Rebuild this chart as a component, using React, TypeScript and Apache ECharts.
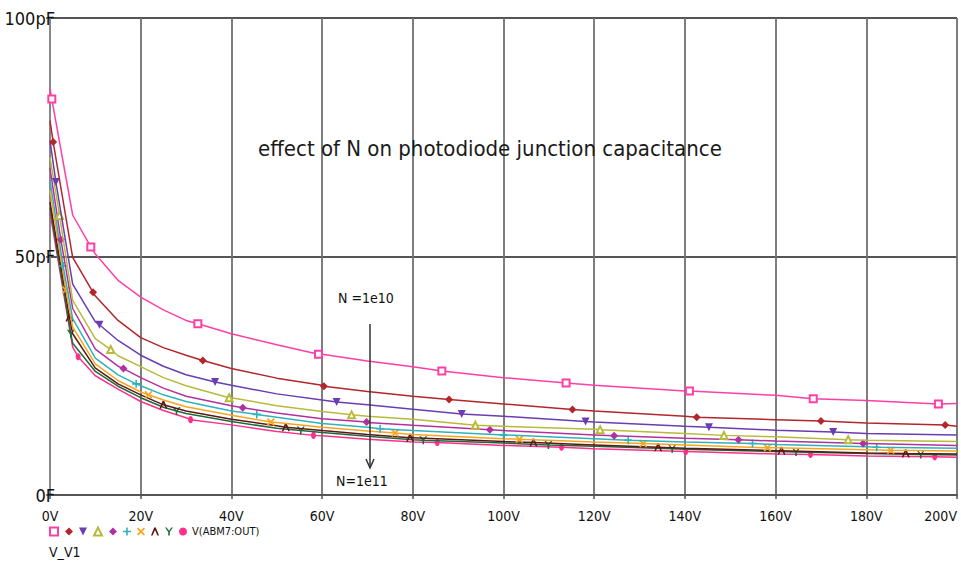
import React, { useEffect, useRef } from "react";
import * as echarts from "echarts";

// Sweep voltages (V) at which each curve was read
const VOLTS = [0, 5, 10, 15, 20, 25, 30, 40, 50, 60, 70, 80, 100, 120, 140, 160, 180, 200];

// Junction capacitance (pF) per curve, N = 1e10 (top) ... N = 1e11 (bottom)
const CAP_1 = [85.2, 58.7, 50.5, 45.0, 41.5, 38.8, 36.6, 33.8, 31.5, 29.5, 28.1, 26.9, 24.6, 23.0, 21.8, 20.9, 19.8, 19.2];
const CAP_2 = [78.5, 49.8, 41.7, 36.6, 33.0, 30.9, 29.3, 26.5, 24.5, 23.0, 21.7, 20.7, 19.1, 17.6, 16.5, 15.8, 15.1, 14.4];
const CAP_3 = [74.3, 44.2, 36.3, 32.4, 29.3, 27.0, 25.2, 23.0, 21.2, 19.9, 18.9, 18.0, 16.5, 15.3, 14.4, 13.6, 12.9, 12.6];
const CAP_4 = [70.8, 40.8, 32.8, 29.2, 26.9, 24.6, 22.9, 20.4, 18.7, 17.5, 16.5, 15.9, 14.4, 13.8, 12.9, 12.2, 11.5, 11.2];
const CAP_5 = [68.5, 39.1, 30.6, 27.0, 24.6, 22.4, 20.7, 18.7, 17.2, 16.0, 15.2, 14.6, 13.5, 12.6, 11.9, 11.3, 10.8, 10.4];
const CAP_6 = [66.0, 37.0, 28.7, 25.2, 22.9, 21.0, 19.6, 17.6, 16.3, 15.0, 14.2, 13.5, 12.6, 11.8, 11.1, 10.6, 10.1, 9.8];
const CAP_7 = [63.9, 35.2, 27.5, 24.0, 21.6, 19.9, 18.5, 16.7, 15.2, 14.2, 13.4, 12.7, 11.8, 11.1, 10.5, 9.9, 9.5, 9.2];
const CAP_8 = [61.4, 33.8, 26.6, 23.3, 21.0, 18.9, 17.6, 15.9, 14.5, 13.5, 12.7, 12.0, 11.2, 10.5, 9.8, 9.3, 8.8, 8.6];
const CAP_9 = [60.3, 31.8, 25.9, 22.8, 20.4, 18.4, 17.1, 15.4, 14.0, 13.1, 12.3, 11.6, 10.9, 10.2, 9.6, 9.1, 8.7, 8.4];
const CAP_10 = [59.3, 31.0, 25.0, 22.2, 19.6, 17.7, 16.2, 14.7, 13.3, 12.4, 11.7, 11.1, 10.4, 9.7, 9.1, 8.6, 8.2, 7.9];

// Marker positions [V, pF]
const MARK_1 = [[0.4, 83.0], [9.0, 52.0], [32.6, 35.9], [59.2, 29.5], [86.4, 26.0], [113.8, 23.5], [141.0, 21.8], [168.3, 20.2], [195.9, 19.1]];
const MARK_2 = [[0.7, 74.0], [9.5, 42.5], [33.7, 28.2], [60.4, 22.8], [88.0, 20.0], [115.2, 17.9], [142.6, 16.3], [170.0, 15.5], [197.4, 14.7]];
const MARK_3 = [[1.3, 65.6], [10.9, 35.7], [36.4, 23.7], [63.2, 19.5], [90.8, 17.0], [118.1, 15.4], [145.3, 14.2], [172.7, 13.2]];
const MARK_4 = [[2.1, 58.6], [13.4, 30.5], [39.5, 20.4], [66.5, 16.8], [93.8, 14.6], [121.3, 13.7], [148.6, 12.5], [176.0, 11.6]];
const MARK_5 = [[2.4, 53.5], [16.2, 26.5], [42.5, 18.3], [69.8, 15.3], [97.0, 13.7], [124.4, 12.4], [151.8, 11.6], [179.3, 10.8]];
const MARK_6 = [[2.9, 48.0], [19.0, 23.3], [45.6, 16.9], [72.8, 13.9], [100.0, 12.6], [127.5, 11.5], [154.9, 10.8], [182.3, 10.0]];
const MARK_7 = [[3.5, 43.0], [21.7, 21.0], [48.7, 15.3], [76.1, 13.0], [103.5, 11.7], [130.8, 10.8], [158.2, 9.9], [185.4, 9.4]];
const MARK_8 = [[4.3, 37.2], [25.0, 18.9], [52.0, 14.2], [79.4, 12.0], [106.6, 11.0], [134.1, 10.0], [161.3, 9.3], [188.7, 8.7]];
const MARK_9 = [[4.6, 33.8], [27.9, 17.6], [55.3, 13.5], [82.3, 11.5], [109.9, 10.5], [137.2, 9.7], [164.5, 9.0], [192.0, 8.5]];
const MARK_10 = [[6.2, 29.0], [31.0, 15.8], [58.1, 12.5], [85.4, 11.0], [112.8, 10.0], [140.2, 9.1], [167.7, 8.5], [195.1, 8.0]];

const X_TICKS = [0, 20, 40, 60, 80, 100, 120, 140, 160, 180, 200];
const Y_TICKS = [0, 50, 100];

const TITLE = "effect of N on photodiode junction capacitance";
const LEGEND_TEXT = "V(ABM7:OUT)";
const X_NAME = "V_V1";
const ANNOT_TOP = "N =1e10";
const ANNOT_BOTTOM = "N=1e11";

const CAPS = [CAP_1, CAP_2, CAP_3, CAP_4, CAP_5, CAP_6, CAP_7, CAP_8, CAP_9, CAP_10];
const MARKS = [MARK_1, MARK_2, MARK_3, MARK_4, MARK_5, MARK_6, MARK_7, MARK_8, MARK_9, MARK_10];

const COLORS = ["#ff3fa6", "#b3262b", "#6a3db3", "#b9b93c", "#b2309f", "#2fb3bb", "#f7a51f", "#5e1717", "#1d6b3a", "#ff2f8a"];

const SYMBOLS = [
  "emptyRect",
  "diamond",
  "path://M0,0 L10,0 L5,10 Z",
  "emptyTriangle",
  "diamond",
  "path://M4,0 L6,0 L6,4 L10,4 L10,6 L6,6 L6,10 L4,10 L4,6 L0,6 L0,4 L4,4 Z",
  "path://M0,1.5 L1.5,0 L5,3.5 L8.5,0 L10,1.5 L6.5,5 L10,8.5 L8.5,10 L5,6.5 L1.5,10 L0,8.5 L3.5,5 Z",
  "path://M4,0 L6,0 L10,10 L8,10 L5,3 L2,10 L0,10 Z",
  "path://M0,0 L2,0 L5,4 L8,0 L10,0 L6,5.5 L6,10 L4,10 L4,5.5 Z",
  "circle",
];
const SYMBOL_SIZES: any[] = [7, 8, 8, 7, 8, 8, 8, 8, 8, [5, 7]];

const FONT = '"Liberation Sans Narrow", "DejaVu Sans Condensed", "Liberation Sans", sans-serif';

function buildData(caps: number[], marks: number[][]) {
  const pts: any[] = VOLTS.map((v, i) => ({ value: [v, caps[i]], symbol: "none" }));
  marks.forEach(([v, c]) => pts.push({ value: [v, c] }));
  pts.sort((a, b) => a.value[0] - b.value[0]);
  return pts;
}

export default function App() {
  const ref = useRef<HTMLDivElement>(null);
  useEffect(() => {
    document.body.style.margin = "0";
    if (!ref.current) return;
    const chart = echarts.init(ref.current, null, { renderer: "svg" });
    const names = CAPS.map((_, i) => "curve" + (i + 1));
    const series = CAPS.map((caps, i) => ({
      name: names[i],
      type: "line",
      data: buildData(caps, MARKS[i]),
      symbol: SYMBOLS[i],
      symbolSize: SYMBOL_SIZES[i],
      showSymbol: true,
      showAllSymbol: true,
      lineStyle: { color: COLORS[i], width: 1.5 },
      itemStyle: { color: COLORS[i], borderWidth: 1.3 },
      emphasis: { disabled: true },
      z: 20 - i,
    }));
    chart.setOption({
      animation: false,
      backgroundColor: "#ffffff",
      grid: { left: 50, right: 4, top: 18, bottom: 73, containLabel: false, outerBoundsMode: "none" },
      title: {
        text: TITLE,
        left: 253,
        top: 132,
        textStyle: { fontFamily: FONT, fontSize: 22, fontWeight: "normal", color: "#1a1a1a" },
      },
      legend: {
        left: 44,
        top: 521,
        itemWidth: 8,
        itemHeight: 8,
        itemGap: 6.0,
        selectedMode: false,
        data: names.map((n, i) => ({ name: n, icon: SYMBOLS[i] })),
        formatter: (n: string) => (n === names[names.length - 1] ? LEGEND_TEXT : ""),
        textStyle: { fontFamily: FONT, fontSize: 11, color: "#111", padding: [0, 0, 0, 0] },
      },
      xAxis: {
        type: "value",
        min: X_TICKS[0],
        max: X_TICKS[X_TICKS.length - 1],
        interval: X_TICKS[1] - X_TICKS[0],
        axisLine: { show: true, lineStyle: { color: "#555", width: 2 } },
        axisTick: { show: true, length: 4, lineStyle: { color: "#555", width: 1.5 } },
        axisLabel: {
          margin: 14,
          fontFamily: FONT,
          fontSize: 14,
          color: "#111",
          alignMaxLabel: "right",
          formatter: (v: number) => v + "V",
        },
        splitLine: { show: true, lineStyle: { color: "#707070", width: 1.8 } },
      },
      yAxis: {
        type: "value",
        min: Y_TICKS[0],
        max: Y_TICKS[Y_TICKS.length - 1],
        interval: Y_TICKS[1] - Y_TICKS[0],
        axisLine: { show: true, lineStyle: { color: "#888", width: 2 } },
        axisTick: { show: true, length: 4, lineStyle: { color: "#555", width: 1.5 } },
        axisLabel: {
          margin: -5,
          fontFamily: FONT,
          fontSize: 18,
          color: "#111",
          formatter: (v: number) => (v === 0 ? "0F" : v + "pF"),
        },
        splitLine: { show: true, lineStyle: { color: "#555", width: 1.8 } },
      },
      graphic: [
        {
          type: "text",
          left: 338,
          top: 291,
          style: { text: ANNOT_TOP, font: "14px " + FONT, fill: "#111" },
          z: 100,
        },
        {
          type: "text",
          left: 336,
          top: 474,
          style: { text: ANNOT_BOTTOM, font: "14px " + FONT, fill: "#111" },
          z: 100,
        },
        {
          type: "line",
          shape: { x1: 370, y1: 324, x2: 370, y2: 468 },
          style: { stroke: "#333", lineWidth: 1.5 },
          z: 100,
        },
        {
          type: "polyline",
          shape: { points: [[366, 459], [370, 468], [374, 459]] },
          style: { stroke: "#333", lineWidth: 1.5, fill: null },
          z: 100,
        },
        {
          type: "text",
          left: 49,
          top: 545,
          style: { text: X_NAME, font: "14px " + FONT, fill: "#111" },
        },
      ],
      series,
    });
    return () => chart.dispose();
  }, []);
  return <div ref={ref} style={{ width: 961, height: 568 }} />;
}
